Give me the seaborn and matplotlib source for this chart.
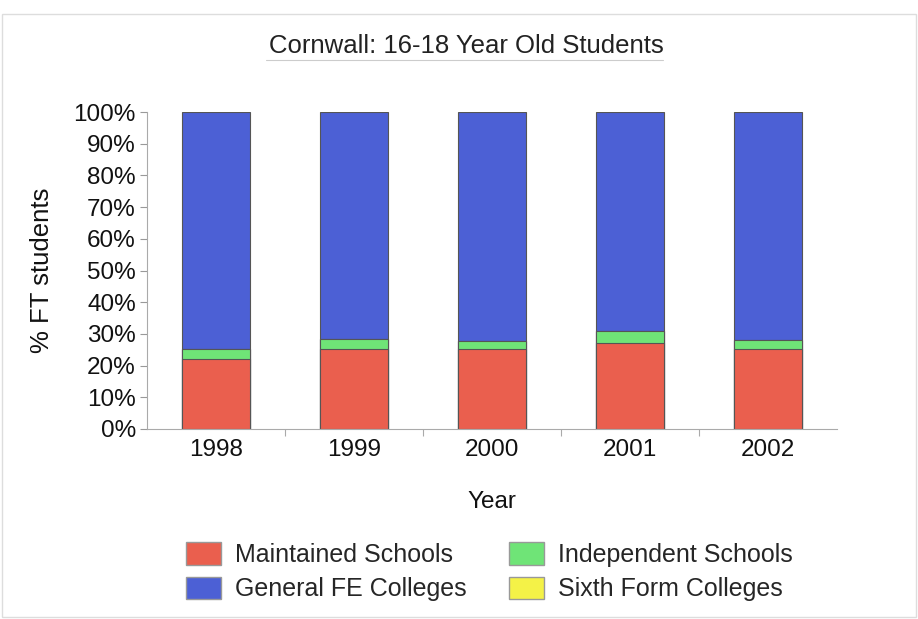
import matplotlib
matplotlib.use("Agg")
import matplotlib.pyplot as plt
import seaborn as sns
import pandas as pd
import numpy as np
from matplotlib.patches import Patch
from matplotlib.lines import Line2D

years = ["1998", "1999", "2000", "2001", "2002"]
maintained = [22.2, 25.3, 25.3, 27.1, 25.2]
independent = [3.0, 3.0, 2.5, 3.7, 3.0]
sixth_form = [0.0, 0.0, 0.0, 0.0, 0.0]
general_fe = [100 - m - i - s for m, i, s in zip(maintained, independent, sixth_form)]

series_names = ["Maintained Schools", "Independent Schools", "Sixth Form Colleges", "General FE Colleges"]
colors = {"Maintained Schools": "#EA5F4E",
          "Independent Schools": "#6FE477",
          "Sixth Form Colleges": "#F4F247",
          "General FE Colleges": "#4C60D5"}

df = pd.DataFrame({"Year": years,
                   "Maintained Schools": maintained,
                   "Independent Schools": independent,
                   "Sixth Form Colleges": sixth_form,
                   "General FE Colleges": general_fe})

sns.set_style("white")
plt.rcParams["font.family"] = ["Liberation Sans", "DejaVu Sans"]

fig = plt.figure(figsize=(9.18, 6.19), dpi=100)
ax = fig.add_axes([0.160, 0.307, 0.752, 0.512])

# stacked bars drawn as cumulative totals, top layer first
cum = np.zeros(len(years))
cums = []
for name in series_names:
    cum = cum + df[name].values
    cums.append((name, cum.copy()))
for name, vals in reversed(cums):
    sns.barplot(x=years, y=vals, color=colors[name], width=0.49,
                edgecolor="#555555", linewidth=0.8, ax=ax, saturation=1)

ax.set_ylim(0, 100)
ax.set_xlim(-0.5, 4.5)
ax.set_yticks(np.arange(0, 101, 10))
ax.set_yticklabels([f"{v}%" for v in range(0, 101, 10)], fontsize=17.5, color="#111111")
ax.tick_params(axis="x", labelsize=17.5, colors="#111111", length=0, pad=7)
ax.tick_params(axis="y", length=5, width=0.8, color="#999999", left=True, pad=3)
ax.set_xticks(np.arange(0.5, 4.0, 1.0), minor=True)
ax.tick_params(axis="x", which="minor", length=5, width=0.8, color="#aaaaaa", bottom=True)
for lab in ax.get_yticklabels():
    lab.set_color("#111111")

for s in ["top", "right"]:
    ax.spines[s].set_visible(False)
for s in ["left", "bottom"]:
    ax.spines[s].set_color("#aaaaaa")
    ax.spines[s].set_linewidth(0.8)

ax.set_xlabel("Year", fontsize=17.5, color="#111111", labelpad=22)
ax.set_ylabel("% FT students", fontsize=18.5, color="#111111", labelpad=14)

fig.text(0.508, 0.926, "Cornwall: 16-18 Year Old Students", ha="center", va="center",
         fontsize=18.5, color="#222222")
fig.add_artist(Line2D([0.29, 0.722], [0.903, 0.903], color="#cccccc", lw=0.8))

handles = [Patch(facecolor=colors["Maintained Schools"], edgecolor="#999999", label="Maintained Schools"),
           Patch(facecolor=colors["General FE Colleges"], edgecolor="#999999", label="General FE Colleges"),
           Patch(facecolor=colors["Independent Schools"], edgecolor="#999999", label="Independent Schools"),
           Patch(facecolor=colors["Sixth Form Colleges"], edgecolor="#999999", label="Sixth Form Colleges")]
fig.legend(handles=handles, ncol=2, loc="center", bbox_to_anchor=(0.533, 0.076),
           frameon=False, fontsize=18, handlelength=1.4, handleheight=1.0,
           columnspacing=1.7, labelspacing=0.38, handletextpad=0.55)

fig.add_artist(plt.Rectangle((0.002, 0.003), 0.996, 0.975, fill=False,
                             edgecolor="#dddddd", lw=1, transform=fig.transFigure))

fig.savefig("out.png", dpi=100)
